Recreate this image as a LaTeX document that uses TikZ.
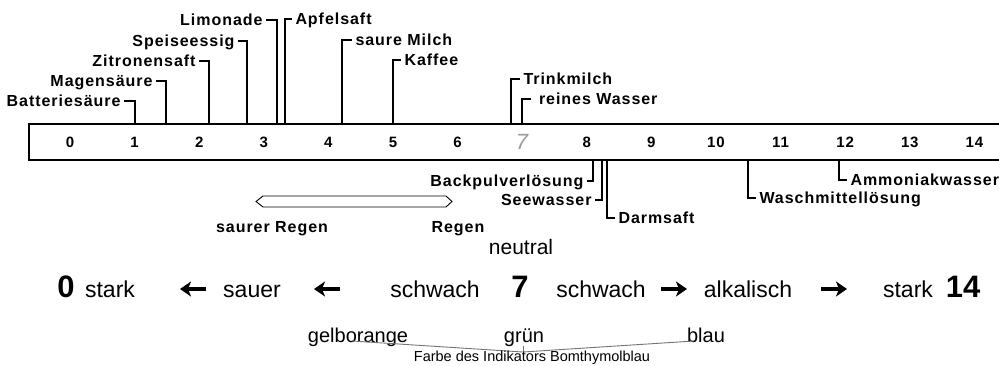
\documentclass[tikz,border=0pt]{standalone}
\usepackage{fontspec}
\setmainfont{Liberation Sans}
\newfontfamily\labfont{Liberation Sans}[LetterSpace=6]
\usetikzlibrary{arrows.meta}
\tikzset{
  lab/.style={font=\labfont\bfseries\fontsize{16}{18}\selectfont, inner sep=0pt, outer xsep=3.5pt, text depth=0pt},
  num/.style={font=\labfont\bfseries\fontsize{15}{17}\selectfont, inner sep=0pt, anchor=base},
  leader/.style={line width=1.1pt},
  word/.style={font=\fontsize{23}{26}\selectfont, inner sep=0pt, anchor=base},
  bignum/.style={font=\bfseries\fontsize{31}{34}\selectfont, inner sep=0pt, anchor=base},
  colw/.style={font=\fontsize{20}{22}\selectfont, inner sep=0pt, anchor=base},
  bigarrow/.style={line width=3.4pt, -{Stealth[length=11pt,width=15pt,inset=3pt]}},
  brace/.style={line width=0.9pt, draw=black!55}
}
\begin{document}
\begin{tikzpicture}[x=1pt,y=-1pt]
\useasboundingbox (0,0) rectangle (999,365);
% scale bar
\draw[line width=1.5pt] (999,124) -- (29,124) -- (29,160) -- (999,160);
\foreach \i in {0,...,6,8,9,10,11,12,13,14}{
  \node[num] (n\i) at ({70+64.6*\i},147) {\i};
}
\node[font=\itshape\fontsize{22}{22}\selectfont, text=black!40, inner sep=0pt, anchor=base] (n7) at (522,149) {7};
% labels above
\node[lab, anchor=east] (bat) at (124,101) {Batteriesäure};
\node[lab, anchor=east] (mag) at (156,81) {Magensäure};
\node[lab, anchor=east] (zit) at (199,61) {Zitronensaft};
\node[lab, anchor=east] (spe) at (238,41) {Speiseessig};
\node[lab, anchor=east] (lim) at (266,20) {Limonade};
\node[lab, anchor=west] (apf) at (292,19) {Apfelsaft};
\node[lab, anchor=west] (mil) at (352,40) {saure Milch};
\node[lab, anchor=west] (kaf) at (401,60) {Kaffee};
\node[lab, anchor=west] (tri) at (520,79) {Trinkmilch};
\node[lab, anchor=west, outer xsep=8pt] (rei) at (531,99) {reines Wasser};
\coordinate (pbat) at (135,124);
\coordinate (pmag) at (166,124);
\coordinate (pzit) at (209,124);
\coordinate (pspe) at (247,124);
\coordinate (plim) at (277,124);
\coordinate (papf) at (285,124);
\coordinate (pmil) at (342,124);
\coordinate (pkaf) at (393,124);
\coordinate (ptri) at (511,124);
\coordinate (prei) at (522,124);
\foreach \n in {bat,mag,zit,spe,lim,apf,mil,kaf,tri,rei}{
  \draw[leader] (p\n) |- (\n);
}
% labels below
\node[lab, anchor=east] (bac) at (587,181) {Backpulverlösung};
\node[lab, anchor=east] (see) at (595,200) {Seewasser};
\node[lab, anchor=west] (dar) at (615,218) {Darmsaft};
\node[lab, anchor=west] (was) at (756,198) {Waschmittellösung};
\node[lab, anchor=west] (amm) at (847,180) {Ammoniakwasser};
\coordinate (pbac) at (593,160);
\coordinate (psee) at (602,160);
\coordinate (pdar) at (607,160);
\coordinate (pwas) at (748,160);
\coordinate (pamm) at (839,160);
\foreach \n in {bac,see,dar,was,amm}{
  \draw[leader] (p\n) |- (\n);
}
% rain range
\draw[line width=0.9pt] (256,201.5) -- (263,196) -- (446,196) -- (452,201.5) -- (446,207) -- (263,207) -- cycle;
\node[lab, outer xsep=0pt] (sre) at (272,227) {saurer Regen};
\node[lab, outer xsep=0pt] (reg) at (458,227) {Regen};
% lower scale
\node[font=\fontsize{21}{24}\selectfont, inner sep=0pt] (neu) at (521,247) {neutral};
\node[bignum] (b0) at (66,297) {0};
\node[word] (st1) at (110,297) {stark};
\node[word] (sau) at (252,297) {sauer};
\node[word] (sw1) at (435,297) {schwach};
\node[bignum] (b7) at (520,297) {7};
\node[word] (sw2) at (601,297) {schwach};
\node[word] (alk) at (748,297) {alkalisch};
\node[word] (st2) at (908,297) {stark};
\node[bignum] (b14) at (963,297) {14};
\coordinate (a1s) at (206,289); \coordinate (a1e) at (180,289);
\coordinate (a2s) at (340,289); \coordinate (a2e) at (314,289);
\coordinate (a3s) at (661,289); \coordinate (a3e) at (687,289);
\coordinate (a4s) at (821,289); \coordinate (a4e) at (847,289);
\draw[bigarrow] (a1s) -- (a1e);
\draw[bigarrow] (a2s) -- (a2e);
\draw[bigarrow] (a3s) -- (a3e);
\draw[bigarrow] (a4s) -- (a4e);
% indicator colours
\node[colw] (gel) at (358,342) {gelborange};
\node[colw] (gru) at (524,342) {grün};
\node[colw] (bla) at (706,342) {blau};
\coordinate (jn) at (523,352);
\coordinate (lft) at (352,341);
\coordinate (rgt) at (694,341);
\draw[brace] (lft) -- (jn) -- (rgt);
\draw[brace] (gru.south -| jn) -- (jn);
\node[font=\fontsize{14.5}{16}\selectfont, inner sep=0pt] (far) at (532,358) {Farbe des Indikators Bomthymolblau};
\end{tikzpicture}
\end{document}
